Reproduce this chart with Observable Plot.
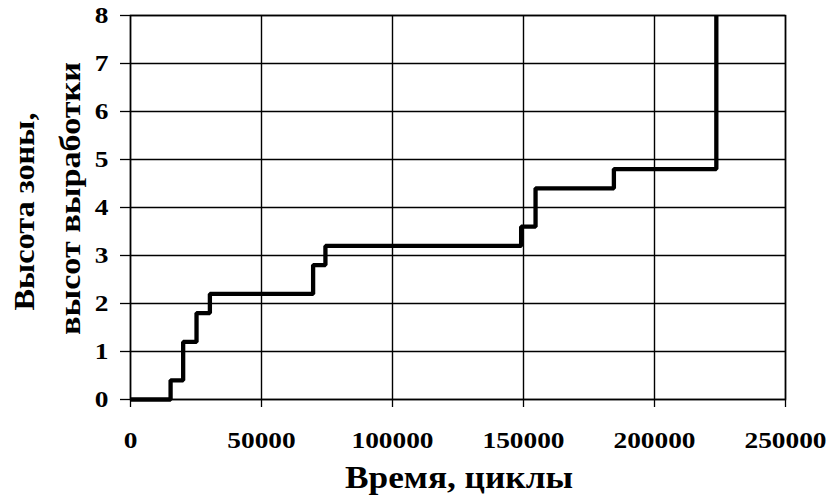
<!DOCTYPE html>
<html>
<head>
<meta charset="utf-8">
<script src="https://cdn.jsdelivr.net/npm/d3@7"></script>
<script src="https://cdn.jsdelivr.net/npm/@observablehq/plot@0.6"></script>
<style>
  html, body { margin: 0; padding: 0; background: #fff; }
  svg text { font-family: "Liberation Serif", "Times New Roman", Times, "DejaVu Serif", serif !important; font-weight: bold; }
</style>
</head>
<body>
<div id="chart"></div>
<script>
const cycles  = [0, 15300, 20100, 25200, 30300, 69700, 74400, 149100, 154600, 184500, 223600];
const heights = [0, 0.4, 1.2, 1.8, 2.2, 2.8, 3.2, 3.6, 4.4, 4.8, 8];
const xTicks = [0, 50000, 100000, 150000, 200000, 250000];
const yTicks = [0, 1, 2, 3, 4, 5, 6, 7, 8];
const xTitle = "Время, циклы";
const yTitle1 = "Высота зоны,";
const yTitle2 = "высот выработки";

const data = cycles.map((c, i) => ({c, h: heights[i]}));
const FONT = "Liberation Serif, Times New Roman, serif";

const chart = Plot.plot({
  width: 830,
  height: 497,
  marginLeft: 130,
  marginRight: 45,
  marginTop: 15,
  marginBottom: 98,
  style: "font-family: 'Liberation Serif', 'Times New Roman', serif; font-size: 24px; font-weight: bold; background: white; color: black;",
  x: {domain: [0, 250000]},
  y: {domain: [0, 8]},
  marks: [
    Plot.gridX(xTicks, {stroke: "black", strokeOpacity: 1, strokeWidth: 1.4}),
    Plot.gridY(yTicks, {stroke: "black", strokeOpacity: 1, strokeWidth: 1.4}),
    Plot.frame({stroke: "black", strokeWidth: 1.5}),
    Plot.axisX({ticks: xTicks, tickSize: 8, tickPadding: 23, tickFormat: d => String(d), label: null, stroke: "black", strokeWidth: 1.3, fontFamily: FONT, fontSize: 24, fontWeight: "bold"}),
    Plot.axisY({ticks: yTicks, tickSize: 10, tickPadding: 12, tickFormat: d => String(d), label: null, stroke: "black", strokeWidth: 1.3, fontFamily: FONT, fontSize: 24, fontWeight: "bold"}),
    Plot.line(data, {x: "c", y: "h", curve: "step-after", stroke: "black", strokeWidth: 4.3, strokeLinejoin: "miter", strokeLinecap: "butt"}),
    Plot.text([xTitle], {frameAnchor: "bottom", dx: 1, dy: 79, text: d => d, fontFamily: FONT, fontSize: 31, fontWeight: "bold", lineAnchor: "middle", textAnchor: "middle"}),
    Plot.text([yTitle1], {frameAnchor: "left", dx: -106, dy: 4, rotate: -90, text: d => d, fontFamily: FONT, fontSize: 29, fontWeight: "bold", lineAnchor: "middle", textAnchor: "middle"}),
    Plot.text([yTitle2], {frameAnchor: "left", dx: -60, dy: -9, rotate: -90, text: d => d, fontFamily: FONT, fontSize: 29, fontWeight: "bold", lineAnchor: "middle", textAnchor: "middle"})
  ]
});
document.getElementById("chart").appendChild(chart);

// The reference scan is slightly stretched horizontally: widen the glyphs to match.
const targets = {};
targets[xTitle] = 228;
targets[yTitle1] = 198;
targets[yTitle2] = 273;
d3.select(chart).selectAll("text").each(function () {
  const t = this.textContent;
  const len = this.getComputedTextLength();
  if (targets[t] !== undefined) {
    this.setAttribute("textLength", targets[t]);
    this.setAttribute("lengthAdjust", "spacingAndGlyphs");
  } else if (len > 0) {
    this.setAttribute("textLength", (len * 1.14).toFixed(1));
    this.setAttribute("lengthAdjust", "spacingAndGlyphs");
  }
});
</script>
</body>
</html>
